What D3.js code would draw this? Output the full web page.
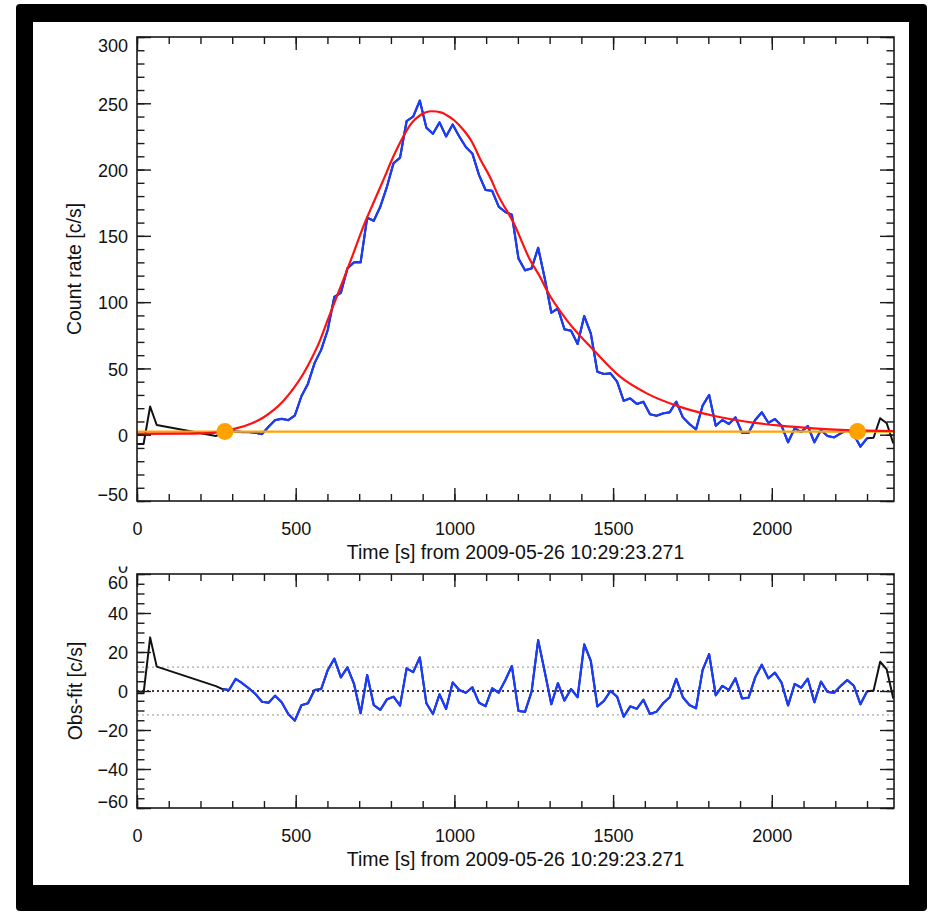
<!DOCTYPE html>
<html>
<head>
<meta charset="utf-8">
<script src="https://cdn.jsdelivr.net/npm/d3@7/dist/d3.min.js"></script>
<style>
  html, body { margin: 0; padding: 0; background: #fff; }
  svg { display: block; }
  text { font-family: "Liberation Sans", Arial, Helvetica, sans-serif; fill: #111; }
</style>
</head>
<body>
<svg id="chart" width="934" height="912"></svg>
<script>
// ---- data -------------------------------------------------------------
// bin times (s) from 2009-05-26 10:29:23.271, 20.72 s cadence (bins 4-11 missing)
const binTime = [
  0, 20.7, 41.4, 62.2,
  248.6, 269.4, 290.1, 310.8, 331.5, 352.2, 373.0, 393.7, 414.4, 435.1,
  455.8, 476.6, 497.3, 518.0, 538.7, 559.4, 580.2, 600.9, 621.6, 642.3,
  663.0, 683.8, 704.5, 725.2, 745.9, 766.6, 787.4, 808.1, 828.8, 849.5,
  870.2, 891.0, 911.7, 932.4, 953.1, 973.8, 994.6, 1015.3, 1036.0, 1056.7,
  1077.4, 1098.2, 1118.9, 1139.6, 1160.3, 1181.0, 1201.8, 1222.5, 1243.2, 1263.9,
  1284.6, 1305.4, 1326.1, 1346.8, 1367.5, 1388.2, 1409.0, 1429.7, 1450.4, 1471.1,
  1491.8, 1512.6, 1533.3, 1554.0, 1574.7, 1595.4, 1616.2, 1636.9, 1657.6, 1678.3,
  1699.0, 1719.8, 1740.5, 1761.2, 1781.9, 1802.6, 1823.4, 1844.1, 1864.8, 1885.5,
  1906.2, 1927.0, 1947.7, 1968.4, 1989.1, 2009.8, 2030.6, 2051.3, 2072.0, 2092.7,
  2113.4, 2134.2, 2154.9, 2175.6, 2196.3, 2217.0, 2237.8, 2258.5, 2279.2, 2299.9,
  2320.6, 2341.4, 2362.1, 2382.8
];

// observed count rate (c/s), one per bin
const countRate = [
  -7, -7, 21.3, 7.3,
  -1, 2.0, 3.3, 2.5, 2, 2, 1.5, 0.5, 6, 11,
  12, 11, 14.5, 29, 38.5, 54, 64, 79, 104, 107,
  125.5, 130, 130, 163.7, 161.4, 172, 187, 204.7, 209, 236.6,
  240, 252, 231.6, 227, 235.6, 225, 234, 225, 217, 212,
  196, 184.6, 184, 172, 168, 166, 133, 124, 125.5, 141,
  118, 92, 95.3, 79.5, 78.5, 68.4, 89.5, 76.5, 47.5, 45.8,
  46.3, 40, 25.6, 27.4, 23.2, 24.9, 15.4, 14.3, 16.1, 16.9,
  24.9, 13.1, 8.1, 4, 21.9, 30, 6.8, 11.1, 8.1, 13.1,
  1.5, 1.5, 11.1, 16.9, 9, 11.8, 6.8, -5.7, 4.8, 2,
  6.6, -5.7, 3.5, -1, -2, 1, 3.5, 0, -9, -2.7,
  -2.3, 12.4, 8.6, -6.5
];

// residuals obs - fit (c/s), one per bin
const residual = [
  -1.2, -1.2, 27.5, 12.5,
  2.5, 1, 0.5, 6.2, 4, 1.4, -1.5, -5.5, -6, -2.4,
  -5.8, -11.8, -15.2, -7.3, -6.3, 0.5, 1, 10.7, 16.6, 7,
  12.1, 3.6, -11.4, 8.2, -7.2, -9.7, -4.3, -2.9, -7.5, 11.6,
  9.7, 17.2, -6.3, -11.8, -1.7, -9.2, 4.4, 0.5, -0.9, 1.9,
  -6, -7.8, 1.4, -0.9, 5.5, 12.8, -10.2, -10.7, -0.3, 26.1,
  9.9, -6.8, 4, -4.9, 1, -3.2, 23.9, 15.5, -7.9, -5.1,
  0, -2.9, -13.2, -7.9, -9.1, -4.5, -11.8, -10.6, -6.3, -3.2,
  6.2, -3.2, -7.2, -8.9, 10.7, 18.9, -2.2, 2.6, 0.5, 6.5,
  -3.8, -3.4, 7, 13.5, 6.5, 9.4, 4.3, -7.4, 3.6, 1.7,
  6.3, -5.8, 4.8, -0.5, -0.9, 2.6, 5.6, 2.7, -6.8, -0.3,
  0.2, 15, 11.1, -3.8
];

// fitted pulse model (c/s) sampled along time
const fitTime = [0, 150, 240, 277, 303, 350, 398, 430, 461, 495, 524, 550, 577, 600, 629, 650,
  682, 713, 745, 776, 808, 839, 865, 892, 928, 960, 976, 1000, 1028, 1055, 1081, 1117, 1133,
  1186, 1238, 1270, 1291, 1354, 1438, 1522, 1606, 1711, 1816, 1921, 2026, 2131, 2236, 2383];
const fitRate = [0.6, 0.8, 1.4, 2.4, 4.2, 7.5, 13, 18.5, 25.5, 35.5, 46, 57.5, 71.4, 86, 104, 116.7,
  137, 157, 175, 192, 210, 225, 235, 241, 244, 243, 241, 237, 230, 221, 208, 192, 183,
  160, 132, 119, 109, 86.5, 64, 43.8, 31.2, 21, 14.3, 9.8, 6.8, 4.8, 3.5, 2.8];

// fitted interval: first/last bin drawn in blue, and its marked boundaries
const fitWindow = [269.4, 2299.9];
const intervalMarks = [277, 2270];
const backgroundLevel = 2.4;
const sigmaLevel = 12.2;

// axis ticks
const xMajorTicks = [0, 500, 1000, 1500, 2000];
const xMinorTicks = d3.range(0, 2400, 100);
const rateTicks = [-50, 0, 50, 100, 150, 200, 250, 300];
const rateMinorTicks = d3.range(-50, 301, 10);
const residTicks = [-60, -40, -20, 0, 20, 40, 60];
const residMinorTicks = d3.range(-60, 61, 5);

const xTitle = "Time [s] from 2009-05-26 10:29:23.271";

// ---- layout -----------------------------------------------------------
const svg = d3.select("#chart");
const W = 934, H = 912;

// outer frame
svg.append("rect").attr("x", 0).attr("y", 0).attr("width", W).attr("height", H).attr("fill", "#fff");
svg.append("rect").attr("x", 16).attr("y", 4).attr("width", 911).attr("height", 907)
  .attr("rx", 4).attr("fill", "#000");
svg.append("rect").attr("x", 33).attr("y", 22).attr("width", 876).attr("height", 863).attr("fill", "#fff");

const plotL = 137, plotR = 894;
const panelTop = { t: 37, b: 501 };
const panelBot = { t: 574, b: 808 };

const x = d3.scaleLinear().domain([0, 2385]).range([plotL, plotR]);
const yRate = d3.scaleLinear().domain([-50, 300]).range([panelTop.b, panelTop.t]);
const yRes = d3.scaleLinear().domain([-60, 60]).range([panelBot.b, panelBot.t]);

const axisColor = "#1a1a1a";

function drawFrame(g, y, panel, major, minor) {
  const w = plotR - plotL, h = panel.b - panel.t;
  const axes = g.append("g");
  // minor ticks on four sides
  axes.append("g").attr("transform", `translate(0,${panel.b})`)
    .call(d3.axisBottom(x).tickValues(xMinorTicks).tickSizeInner(-7).tickSizeOuter(0).tickFormat(""));
  axes.append("g").attr("transform", `translate(0,${panel.t})`)
    .call(d3.axisTop(x).tickValues(xMinorTicks).tickSizeInner(-7).tickSizeOuter(0).tickFormat(""));
  axes.append("g").attr("transform", `translate(${plotL},0)`)
    .call(d3.axisLeft(y).tickValues(minor).tickSizeInner(-7.5).tickSizeOuter(0).tickFormat(""));
  axes.append("g").attr("transform", `translate(${plotR},0)`)
    .call(d3.axisRight(y).tickValues(minor).tickSizeInner(-7.5).tickSizeOuter(0).tickFormat(""));
  // major ticks, labelled on the bottom and left
  axes.append("g").attr("transform", `translate(0,${panel.b})`)
    .call(d3.axisBottom(x).tickValues(xMajorTicks).tickSizeInner(-13).tickSizeOuter(0)
      .tickPadding(21).tickFormat(d3.format("d")));
  axes.append("g").attr("transform", `translate(0,${panel.t})`)
    .call(d3.axisTop(x).tickValues(xMajorTicks).tickSizeInner(-13).tickSizeOuter(0).tickFormat(""));
  const yl = axes.append("g").attr("transform", `translate(${plotL},0)`)
    .call(d3.axisLeft(y).tickValues(major).tickSizeInner(-14).tickSizeOuter(0)
      .tickPadding(9).tickFormat(d3.format("d")));
  axes.append("g").attr("transform", `translate(${plotR},0)`)
    .call(d3.axisRight(y).tickValues(major).tickSizeInner(-14).tickSizeOuter(0).tickFormat(""));

  axes.selectAll(".domain").remove();
  axes.selectAll(".tick line").attr("stroke", axisColor).attr("stroke-width", 1.4);
  axes.selectAll("text").attr("font-size", 18).attr("fill", "#111")
    .attr("font-family", '"Liberation Sans", Arial, Helvetica, sans-serif');
  // end labels sit just inside the axis box
  const [lo, hi] = y.domain();
  yl.selectAll(".tick text").attr("dy", d => d === hi ? "0.82em" : d === lo ? "-0.05em" : "0.38em");

  g.append("rect").attr("x", plotL).attr("y", panel.t).attr("width", w).attr("height", h)
    .attr("fill", "none").attr("stroke", axisColor).attr("stroke-width", 1.6);

  g.append("text").attr("x", (plotL + plotR) / 2).attr("y", panel.b + 58)
    .attr("text-anchor", "middle").attr("font-size", 19.5).text(xTitle);
}

const bins = binTime.map((t, i) => ({ t, rate: countRate[i], res: residual[i] }));
const inFit = d => d.t >= fitWindow[0] && d.t <= fitWindow[1];

// ---- upper panel: light curve with fit -------------------------------
const gTop = svg.append("g");
svg.append("clipPath").attr("id", "clipTop").append("rect")
  .attr("x", plotL).attr("y", panelTop.t).attr("width", plotR - plotL).attr("height", panelTop.b - panelTop.t);
const pTop = gTop.append("g").attr("clip-path", "url(#clipTop)");

const rateLine = d3.line().x(d => x(d.t)).y(d => yRate(d.rate));
pTop.append("path").datum(bins).attr("d", rateLine)
  .attr("fill", "none").attr("stroke", "#111").attr("stroke-width", 2).attr("stroke-linejoin", "round");
pTop.append("path").datum(bins.filter(inFit)).attr("d", rateLine)
  .attr("fill", "none").attr("stroke", "#1a3cff").attr("stroke-width", 2.2).attr("stroke-linejoin", "round");

pTop.append("line").attr("x1", plotL).attr("x2", plotR)
  .attr("y1", yRate(backgroundLevel)).attr("y2", yRate(backgroundLevel))
  .attr("stroke", "#ffa500").attr("stroke-width", 2.2);

const fitPts = fitTime.map((t, i) => ({ t, v: fitRate[i] }));
pTop.append("path").datum(fitPts)
  .attr("d", d3.line().curve(d3.curveMonotoneX).x(d => x(d.t)).y(d => yRate(d.v)))
  .attr("fill", "none").attr("stroke", "#ff1111").attr("stroke-width", 2.2);

gTop.selectAll("circle.mark").data(intervalMarks).join("circle")
  .attr("class", "mark").attr("cx", d => x(d)).attr("cy", yRate(backgroundLevel))
  .attr("r", 8.5).attr("fill", "#ffa200");

drawFrame(gTop, yRate, panelTop, rateTicks, rateMinorTicks);

svg.append("text").attr("transform", `translate(74,${(panelTop.t + panelTop.b) / 2}) rotate(-90)`)
  .attr("text-anchor", "middle").attr("dominant-baseline", "central")
  .attr("font-size", 19.5).text("Count rate [c/s]");

// ---- lower panel: residuals -------------------------------------------
const gBot = svg.append("g");
svg.append("clipPath").attr("id", "clipBot").append("rect")
  .attr("x", plotL).attr("y", panelBot.t).attr("width", plotR - plotL).attr("height", panelBot.b - panelBot.t);
const pBot = gBot.append("g").attr("clip-path", "url(#clipBot)");

[sigmaLevel, -sigmaLevel].forEach(v => {
  pBot.append("line").attr("x1", plotL).attr("x2", plotR).attr("y1", yRes(v)).attr("y2", yRes(v))
    .attr("stroke", "#a8a8a8").attr("stroke-width", 1.2).attr("stroke-dasharray", "2 3");
});
pBot.append("line").attr("x1", plotL).attr("x2", plotR).attr("y1", yRes(0)).attr("y2", yRes(0))
  .attr("stroke", "#4a3344").attr("stroke-width", 2).attr("stroke-dasharray", "2 3");

const resLine = d3.line().x(d => x(d.t)).y(d => yRes(d.res));
pBot.append("path").datum(bins).attr("d", resLine)
  .attr("fill", "none").attr("stroke", "#111").attr("stroke-width", 2).attr("stroke-linejoin", "round");
pBot.append("path").datum(bins.filter(inFit)).attr("d", resLine)
  .attr("fill", "none").attr("stroke", "#1a3cff").attr("stroke-width", 2.2).attr("stroke-linejoin", "round");

drawFrame(gBot, yRes, panelBot, residTicks, residMinorTicks);

// label above the residual axis, mostly hidden behind the upper panel's title area
svg.append("clipPath").attr("id", "clipLab").append("rect")
  .attr("x", 100).attr("y", 566.5).attr("width", 40).attr("height", 6.5);
svg.append("text").attr("x", 128).attr("y", 573).attr("text-anchor", "end")
  .attr("font-size", 18).attr("clip-path", "url(#clipLab)").text("0");

svg.append("text").attr("transform", `translate(75,${(panelBot.t + panelBot.b) / 2}) rotate(-90)`)
  .attr("text-anchor", "middle").attr("dominant-baseline", "central")
  .attr("font-size", 19.5).text("Obs-fit [c/s]");
</script>
</body>
</html>
